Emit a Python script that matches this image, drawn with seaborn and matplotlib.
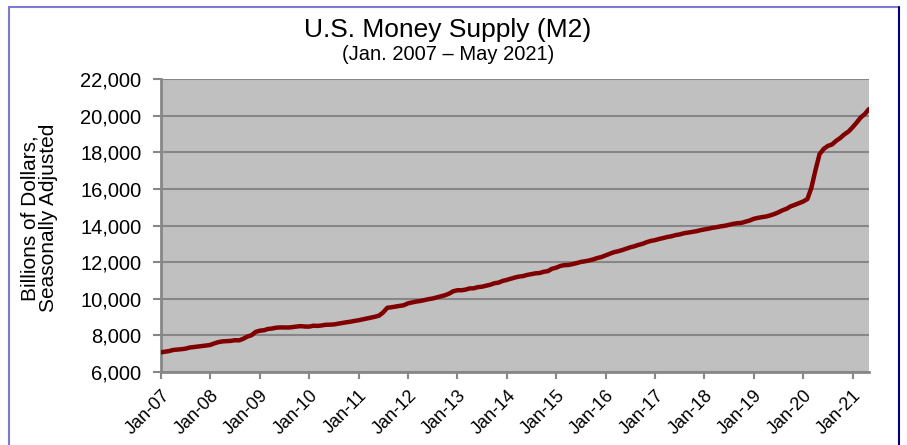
import numpy as np
import pandas as pd
import matplotlib
matplotlib.use('Agg')
import matplotlib.pyplot as plt
from matplotlib.lines import Line2D
import seaborn as sns

# M2, billions of dollars, monthly Jan 2007 - May 2021
m2_2007 = [7077, 7111, 7143, 7203, 7222, 7247, 7275, 7336, 7363, 7391, 7420, 7447]
m2_2008 = [7481, 7568, 7633, 7673, 7686, 7700, 7737, 7730, 7818, 7938, 8011, 8191]
m2_2009 = [8258, 8282, 8350, 8374, 8421, 8436, 8431, 8430, 8453, 8484, 8504, 8483]
m2_2010 = [8479, 8528, 8518, 8540, 8577, 8589, 8596, 8637, 8672, 8714, 8746, 8791]
m2_2011 = [8827, 8875, 8915, 8962, 9015, 9079, 9251, 9506, 9536, 9573, 9611, 9647]
m2_2012 = [9750, 9800, 9847, 9878, 9930, 9978, 10014, 10076, 10136, 10193, 10283, 10410]
m2_2013 = [10467, 10466, 10497, 10565, 10570, 10634, 10658, 10713, 10767, 10846, 10883, 10972]
m2_2014 = [11030, 11095, 11158, 11211, 11238, 11303, 11343, 11388, 11407, 11474, 11510, 11638]
m2_2015 = [11697, 11792, 11833, 11845, 11889, 11946, 12009, 12046, 12090, 12148, 12225, 12279]
m2_2016 = [12370, 12456, 12538, 12591, 12653, 12733, 12808, 12867, 12942, 13002, 13093, 13158]
m2_2017 = [13202, 13266, 13313, 13372, 13409, 13475, 13511, 13574, 13610, 13648, 13686, 13741]
m2_2018 = [13787, 13825, 13876, 13908, 13953, 13985, 14037, 14088, 14125, 14142, 14205, 14271]
m2_2019 = [14366, 14418, 14457, 14489, 14550, 14624, 14717, 14829, 14917, 15048, 15131, 15222]
m2_2020 = [15310, 15445, 16039, 17023, 17895, 18183, 18344, 18425, 18623, 18779, 18979, 19129]
m2_2021 = [19368, 19635, 19893, 20087, 20355]

tick_labels = ['Jan-07', 'Jan-08', 'Jan-09', 'Jan-10', 'Jan-11', 'Jan-12', 'Jan-13',
               'Jan-14', 'Jan-15', 'Jan-16', 'Jan-17', 'Jan-18', 'Jan-19', 'Jan-20', 'Jan-21']

values = (m2_2007 + m2_2008 + m2_2009 + m2_2010 + m2_2011 + m2_2012 + m2_2013 + m2_2014
          + m2_2015 + m2_2016 + m2_2017 + m2_2018 + m2_2019 + m2_2020 + m2_2021)
df = pd.DataFrame({'Fecha': pd.date_range('2007-01-01', periods=len(values), freq='MS'),
                   'M2': values})

sns.set_style('white')
plt.rcParams['font.family'] = ['Liberation Sans', 'DejaVu Sans']
plt.rcParams['text.color'] = 'black'
plt.rcParams['xtick.labelcolor'] = 'black'
plt.rcParams['ytick.labelcolor'] = 'black'

fig = plt.figure(figsize=(9.07, 4.45), dpi=100)
ax = fig.add_axes([0.1775, 0.164, 0.7805, 0.6585])
ax.set_facecolor('#c0c0c0')

sns.lineplot(data=df, x='Fecha', y='M2', color='#800000', linewidth=3.2, ax=ax, zorder=3)

ax.set_xlim(df['Fecha'].iloc[0], df['Fecha'].iloc[-1])
ax.set_ylim(6000, 22000)
ax.set_yticks(range(6000, 22001, 2000))
ax.set_yticklabels([f'{v:,}' for v in range(6000, 22001, 2000)], fontsize=14.5)
ax.yaxis.grid(True, color='#878787', linewidth=1.5, zorder=1)
ax.xaxis.grid(False)

xt = pd.date_range('2007-01-01', periods=len(tick_labels), freq='YS')
ax.set_xticks(xt)
ax.set_xticklabels(tick_labels, rotation=45, ha='right', va='top',
                   rotation_mode='anchor', fontsize=13)
ax.tick_params(axis='both', direction='out', width=1.5, color='#878787',
               bottom=True, left=True)
ax.tick_params(axis='x', length=5, pad=6)
ax.tick_params(axis='y', length=6, pad=8)

for s in ['top', 'right']:
    ax.spines[s].set_visible(False)
for s in ['left', 'bottom']:
    ax.spines[s].set_color('#878787')
    ax.spines[s].set_linewidth(2)

ax.set_xlabel('')
ax.set_ylabel('')

fig.text(0.494, 0.933, 'U.S. Money Supply (M2)', ha='center', va='center', fontsize=19)
fig.text(0.494, 0.877, '(Jan. 2007 \u2013 May 2021)', ha='center', va='center', fontsize=14.5)
fig.text(0.043, 0.51, 'Billions of Dollars,\nSeasonally Adjusted', ha='center', va='center',
         rotation=90, fontsize=15, multialignment='center', linespacing=1.0)

# marco del gráfico
fig.add_artist(Line2D([9 / 907, 899 / 907], [1 - 7 / 445, 1 - 7 / 445],
                      transform=fig.transFigure, color='#7b7bd0', linewidth=1.5))
fig.add_artist(Line2D([9 / 907, 9 / 907], [1 - 7 / 445, 0],
                      transform=fig.transFigure, color='#7b7bd0', linewidth=1.5))
fig.add_artist(Line2D([899 / 907, 899 / 907], [1 - 7 / 445, 0],
                      transform=fig.transFigure, color='#000080', linewidth=1.5))

fig.savefig('out.png', dpi=100)
